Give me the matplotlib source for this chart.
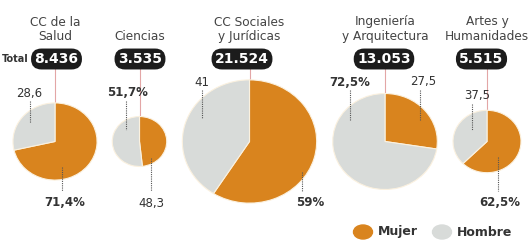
import numpy as np
import matplotlib.pyplot as plt
from matplotlib.patches import Ellipse

# data
areas = ['CC de la\nSalud', 'Ciencias', 'CC Sociales\ny Jurídicas',
         'Ingeniería\ny Arquitectura', 'Artes y\nHumanidades']
totales = [8436, 3535, 21524, 13053, 5515]
total_labels = ['8.436', '3.535', '21.524', '13.053', '5.515']
mujer = [71.4, 48.3, 59.0, 27.5, 62.5]
hombre = [28.6, 51.7, 41.0, 72.5, 37.5]

c_mujer = '#d9841e'
c_hombre = '#d8dbd9'
c_text = '#333333'

# layout (pixels from top-left; image is slightly stretched horizontally)
SX = 1.09
H = 240
cx = [55, 139.5, 249.5, 385, 487]
cy = 141.5
badge_x = [56.5, 140, 242, 384, 481.5]
# (text x, text y, line x, line y0, line y1)
lab_h = [(29, 93, 30, 101, 123), (128, 93, 126, 101, 130), (202, 82, 202, 90, 118),
         (350, 82, 350, 90, 120), (477, 96, 472, 104, 130)]
lab_m = [(65, 203, 62, 167, 191), (151, 203, 151, 158, 191), (310, 203, 302, 172, 191),
         (423, 82, 420, 90, 120), (500, 203, 498, 157, 191)]


def X(x):
    return x / SX


def Y(y):
    return H - y


def fmt(v, big):
    s = f'{v:g}'.replace('.', ',')
    return s + '%' if big else s


fig = plt.figure(figsize=(5.3, 2.4), dpi=100)
ax = fig.add_axes([0, 0, 1, 1])

for i in range(len(areas)):
    r = 0.42 * np.sqrt(totales[i])
    ax.pie([mujer[i], hombre[i]], colors=[c_mujer, c_hombre], startangle=90,
           counterclock=False, center=(X(cx[i]), Y(cy)), radius=r,
           wedgeprops=dict(edgecolor='#fbf1df', linewidth=0.8))

    # title
    ax.text(X(cx[i]), Y(43), areas[i], ha='center', va='bottom', fontsize=8.7,
            color='#444444', linespacing=1.15)

    # total badge
    ax.plot([X(cx[i]), X(cx[i])], [Y(68), Y(cy - r)], color='#e3a6a6', lw=0.8, zorder=0)
    ax.text(X(badge_x[i]), Y(59), total_labels[i], ha='center', va='center',
            fontsize=10, fontweight='bold', color='white',
            bbox=dict(boxstyle='round,pad=0.25,rounding_size=0.75', fc='#1c1c1c', ec='none'))

    # labels
    for val, other, (tx, ty, lx, y0, y1) in [(hombre[i], mujer[i], lab_h[i]),
                                            (mujer[i], hombre[i], lab_m[i])]:
        big = val > other
        ax.plot([X(lx), X(lx)], [Y(y0), Y(y1)], color='#555555', lw=0.8,
                linestyle=(0, (1, 1)), zorder=5)
        ax.text(X(tx), Y(ty), fmt(val, big), ha='center', va='center', fontsize=8.5,
                fontweight='bold' if big else 'normal', color=c_text)

ax.text(X(28.5), Y(59), 'Total', ha='right', va='center', fontsize=7,
        fontweight='bold', color=c_text)

# legend
ax.add_patch(Ellipse((X(363), Y(232)), 19 / SX, 14, color=c_mujer))
ax.text(X(378), Y(232), 'Mujer', ha='left', va='center', fontsize=9,
        fontweight='bold', color=c_text)
ax.add_patch(Ellipse((X(442), Y(232)), 19 / SX, 14, color=c_hombre))
ax.text(X(457), Y(232), 'Hombre', ha='left', va='center', fontsize=9,
        fontweight='bold', color=c_text)

ax.set_xlim(0, 530 / SX)
ax.set_ylim(0, H)
ax.set_aspect('auto')
ax.axis('off')

plt.savefig('out.png', dpi=100)
